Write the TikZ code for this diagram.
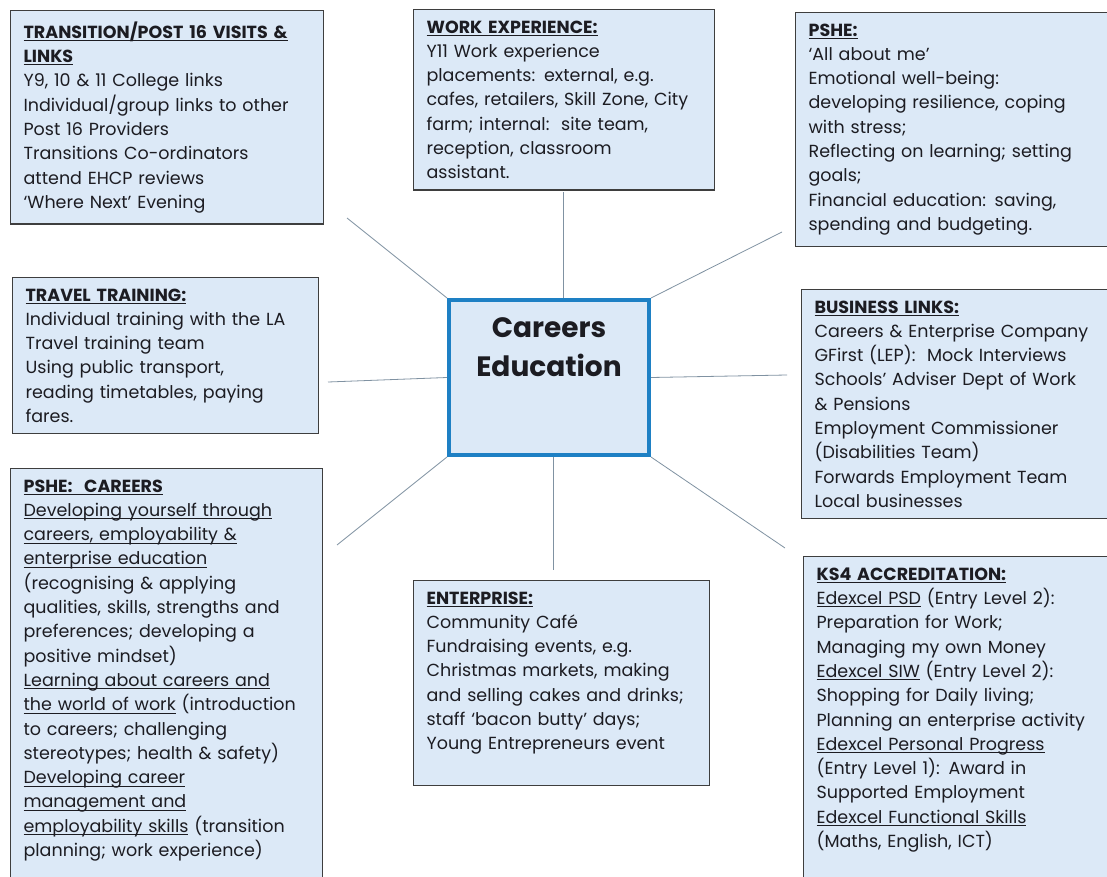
\documentclass[tikz,border=0pt]{standalone}
\usepackage{fontspec}
\setmainfont{Poppins}
\usetikzlibrary{positioning}
\newcommand{\undl}[1]{\leavevmode\setbox0\hbox{#1}\rlap{\rule[-2.8pt]{\wd0}{0.9pt}}\box0\relax}
\definecolor{boxfill}{RGB}{220,233,247}
\definecolor{boxline}{RGB}{62,62,62}
\definecolor{hubline}{RGB}{30,128,196}
\definecolor{spokeline}{RGB}{128,146,162}
\definecolor{ink}{RGB}{28,28,34}
\tikzset{
  topic/.style={draw=boxline, fill=boxfill, line width=1.2pt, anchor=north west,
    align=left, inner xsep=13pt, inner ysep=11pt, text=ink,
    font=\fontsize{17.5}{24.3}\selectfont},
  hub/.style={draw=hubline, fill=boxfill, line width=4pt, minimum width=200pt,
    minimum height=155pt},
  spoke/.style={draw=spokeline, line width=0.8pt}
}
\begin{document}
\begin{tikzpicture}[x=1pt,y=-1pt]
   \useasboundingbox (0,0) rectangle (1107,877);
   \clip (0,0) rectangle (1107,877);
   \fill[white] (0,0) rectangle (1107,877);

   \node[hub] (ce) at (549,377.5) {};
   \node[below=16pt of ce.north, align=center, text=ink,
     font=\fontsize{28}{39}\selectfont\bfseries] (cetext) {Careers\\Education};

   \node[topic, text width=287pt] (tr) at (10,10) {\textbf{\undl{TRANSITION/POST 16 VISITS \&}}\\
     \textbf{\undl{LINKS}}\\
     Y9, 10 \& 11 College links\\
     Individual/group links to other\\
     Post 16 Providers\\
     Transitions Co-ordinators\\
     attend EHCP reviews\\
     ‘Where Next’ Evening};
   \node[topic, text width=275pt] (we) at (413,9) {\textbf{\undl{WORK EXPERIENCE:}}\\
     Y11 Work experience\\
     placements: external, e.g.\\
     cafes, retailers, Skill Zone, City\\
     farm; internal:\ \ site team,\\
     reception, classroom\\
     assistant.};
   \node[topic, text width=302pt] (ps) at (795,12) {\textbf{\undl{PSHE:}}\\
     ‘All about me’\\
     Emotional well-being:\\
     developing resilience, coping\\
     with stress;\\
     Reflecting on learning; setting\\
     goals;\\
     Financial education: saving,\\
     spending and budgeting.};
   \node[topic, text width=280pt] (tt) at (12,277) {\textbf{\undl{TRAVEL TRAINING:}}\\
     Individual training with the LA\\
     Travel training team\\
     Using public transport,\\
     reading timetables, paying\\
     fares.};
   \node[topic, text width=302pt] (bl) at (801,289) {\textbf{\undl{BUSINESS LINKS:}}\\
     Careers \& Enterprise Company\\
     GFirst (LEP):\ \ Mock Interviews\\
     Schools’ Adviser Dept of Work\\
     \& Pensions\\
     Employment Commissioner\\
     (Disabilities Team)\\
     Forwards Employment Team\\
     Local businesses};
   \node[topic, text width=286pt] (pc) at (10,468) {\textbf{\undl{PSHE:\ \ CAREERS}}\\
     \undl{Developing yourself through}\\
     \undl{careers, employability \&}\\
     \undl{enterprise education}\\
     (recognising \& applying\\
     qualities, skills, strengths and\\
     preferences; developing a\\
     positive mindset)\\
     \undl{Learning about careers and}\\
     \undl{the world of work} (introduction\\
     to careers; challenging\\
     stereotypes; health \& safety)\\
     \undl{Developing career}\\
     \undl{management and}\\
     \undl{employability skills} (transition\\
     planning; work experience)\\
     \mbox{}};
   \node[topic, text width=270pt] (en) at (413,580) {\textbf{\undl{ENTERPRISE:}}\\
     Community Café\\
     Fundraising events, e.g.\\
     Christmas markets, making\\
     and selling cakes and drinks;\\
     staff ‘bacon butty’ days;\\
     Young Entrepreneurs event\\
     \mbox{}};
   \node[topic, text width=302pt] (ks) at (803,556) {\textbf{\undl{KS4 ACCREDITATION:}}\\
     \undl{Edexcel PSD} (Entry Level 2):\\
     Preparation for Work;\\
     Managing my own Money\\
     \undl{Edexcel SIW} (Entry Level 2):\\
     Shopping for Daily living;\\
     Planning an enterprise activity\\
     \undl{Edexcel Personal Progress}\\
     (Entry Level 1): Award in\\
     Supported Employment\\
     \undl{Edexcel Functional Skills}\\
     (Maths, English, ICT)\\
     \mbox{}};

   \coordinate (nw) at (347,218);
   \coordinate (n) at (563,192);
   \coordinate (ne) at (782,232);
   \coordinate (w) at (328,382);
   \coordinate (e) at (787,375);
   \coordinate (sw) at (337,545);
   \coordinate (s) at (553,570);
   \coordinate (se) at (785,548);

   \draw[spoke] (ce.north west) -- (nw);
   \draw[spoke] (ce.north -| n) -- (n);
   \draw[spoke] (ce.north east) -- (ne);
   \draw[spoke] (ce.west) -- (w);
   \draw[spoke] (ce.east) -- (e);
   \draw[spoke] (ce.south west) -- (sw);
   \draw[spoke] (ce.south -| s) -- (s);
   \draw[spoke] (ce.south east) -- (se);
\end{tikzpicture}
\end{document}
